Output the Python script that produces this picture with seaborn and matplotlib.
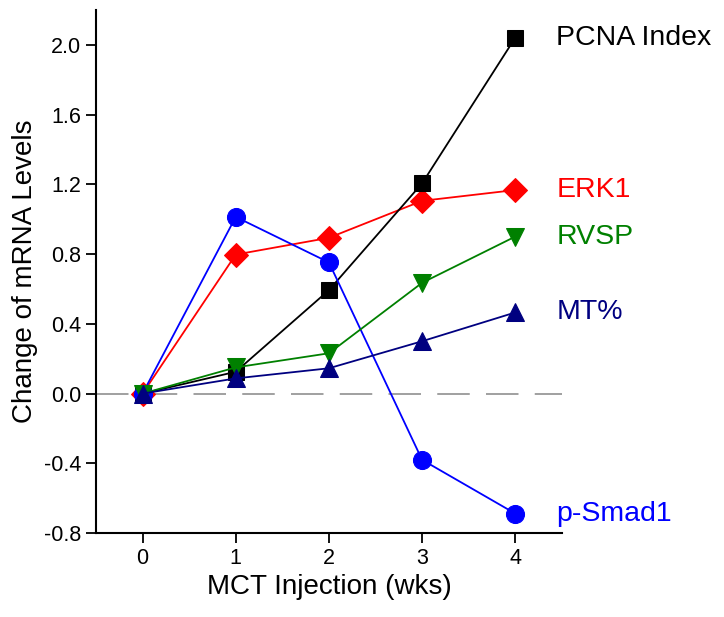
import matplotlib
matplotlib.use("Agg")
import pandas as pd
import seaborn as sns
import matplotlib.pyplot as plt
from matplotlib.ticker import FormatStrFormatter

weeks = [0, 1, 2, 3, 4]
pcna = [0.0, 0.125, 0.593, 1.205, 2.04]
erk1 = [0.0, 0.797, 0.893, 1.105, 1.167]
rvsp = [0.0, 0.150, 0.231, 0.635, 0.900]
mt = [0.0, 0.087, 0.145, 0.300, 0.465]
smad = [0.0, 1.013, 0.752, -0.380, -0.688]

# drawing order: later series sit on top
names = ["ERK1", "PCNA Index", "p-Smad1", "RVSP", "MT%"]
series = [erk1, pcna, smad, rvsp, mt]
colors = ["#ff0000", "#000000", "#0000ff", "#008000", "#000080"]
markers = ["D", "s", "o", "v", "^"]
msizes = [12, 11, 13, 13, 13]

sns.set_style("ticks")
plt.rcParams['font.family'] = ['Liberation Sans', 'DejaVu Sans']
plt.rcParams['axes.unicode_minus'] = False

fig = plt.figure(figsize=(7.24, 6.17), dpi=100)
ax = fig.add_axes([0.1326, 0.136, 0.776 - 0.1326, 0.984 - 0.136])

ax.axhline(0, color="#999999", lw=1.3, dashes=(18, 9), zorder=1)

for name, vals, c, m, ms in zip(names, series, colors, markers, msizes):
    df = pd.DataFrame({"week": weeks, "value": vals})
    sns.lineplot(data=df, x="week", y="value", ax=ax, color=c, marker=m,
                 markersize=ms, markeredgecolor=c, linewidth=1.3, zorder=3)
    ax.text(4.44, vals[-1], name, color=c, fontsize=20.5, va="center",
            ha="left", clip_on=False)

ax.set_xlim(-0.5, 4.5)
ax.set_ylim(-0.8, 2.2)
ax.set_xticks(weeks)
ax.set_yticks([-0.8, -0.4, 0.0, 0.4, 0.8, 1.2, 1.6, 2.0])
ax.yaxis.set_major_formatter(FormatStrFormatter('%.1f'))
ax.tick_params(axis="both", labelsize=15.5, length=7, width=1.3, direction="out", colors="black")
for s in ["left", "bottom"]:
    ax.spines[s].set_linewidth(1.5)
    ax.spines[s].set_color("black")
sns.despine(ax=ax)

ax.set_xlabel("MCT Injection (wks)", fontsize=20, color="black")
ax.set_ylabel("Change of mRNA Levels", fontsize=20, color="black")

fig.savefig("out.png", dpi=100)
